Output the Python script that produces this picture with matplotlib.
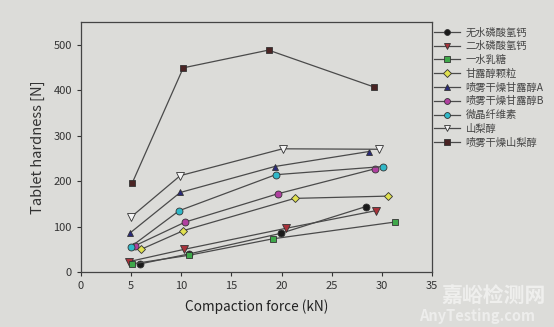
import matplotlib.pyplot as plt

plt.rcParams['font.family'] = ['Noto Sans CJK SC', 'DejaVu Sans']

# Tablet hardness vs compaction force for each excipient
names = ['无水磷酸氢钙', '二水磷酸氢钙', '一水乳糖', '甘露醇颗粒', '喷雾干燥甘露醇A',
         '喷雾干燥甘露醇B', '微晶纤维素', '山梨醇', '喷雾干燥山梨醇']
force = [
    [5.9, 10.8, 19.9, 28.4],
    [4.8, 10.3, 20.4, 29.4],
    [5.1, 10.8, 19.1, 31.3],
    [6.0, 10.2, 21.3, 30.6],
    [4.9, 9.9, 19.3, 28.7],
    [5.4, 10.4, 19.6, 29.3],
    [5.0, 9.8, 19.4, 30.1],
    [5.0, 9.9, 20.1, 29.7],
    [5.1, 10.2, 18.7, 29.2],
]
hardness = [
    [18, 40, 85, 144],
    [23, 50, 96, 135],
    [18, 37, 73, 110],
    [50, 91, 162, 167],
    [86, 175, 232, 265],
    [58, 110, 172, 227],
    [56, 135, 214, 232],
    [121, 212, 271, 270],
    [195, 449, 488, 407],
]
markers = ['o', 'v', 's', 'D', '^', 'o', 'o', 'v', 's']
colors = ['#1a1a1a', '#a8323a', '#3fa84a', '#e0e050', '#2a2a7a',
          '#b040a0', '#30b8c8', '#f4f4f4', '#4a2424']
sizes = [5, 5.5, 5, 4.5, 5, 5, 5, 5.5, 5]

bg = '#dcdcd9'
fig = plt.figure(figsize=(5.54, 3.27), dpi=100, facecolor=bg)
ax = fig.add_axes([0.146, 0.168, 0.634, 0.765], facecolor=bg)

for name, x, y, m, c, s in zip(names, force, hardness, markers, colors, sizes):
    ax.plot(x, y, color='#4a4a4a', lw=0.9, marker=m, ms=s, mfc=c,
            mec='#333333', mew=0.6, label=name)

ax.set_xlim(0, 35)
ax.set_ylim(0, 550)
ax.set_xticks([0, 5, 10, 15, 20, 25, 30, 35])
ax.set_yticks([0, 100, 200, 300, 400, 500])
ax.tick_params(labelsize=8, colors='#333333', length=3, width=0.8)
for sp in ax.spines.values():
    sp.set_color('#444444')
    sp.set_linewidth(0.9)
ax.set_xlabel('Compaction force (kN)', fontsize=9.8, color='#222222', labelpad=6)
ax.set_ylabel('Tablet hardness [N]', fontsize=10.5, color='#333333', labelpad=6)

leg = ax.legend(loc='upper left', bbox_to_anchor=(0.975, 1.02), frameon=False,
                fontsize=7.4, handlelength=2.6, labelspacing=0.36,
                borderaxespad=0.6, handletextpad=0.5, markerscale=0.85)
for t in leg.get_texts():
    t.set_color('#444444')

# site watermark
fig.text(0.797, 0.098, '嘉峪检测网', fontsize=15, color='white', alpha=0.55,
         ha='left', va='center', fontweight='bold')
fig.text(0.862, 0.033, 'AnyTesting.com', fontsize=10.5, color='white', alpha=0.5,
         ha='center', va='center', style='italic', fontweight='bold')

fig.savefig('out.png', dpi=100, facecolor=bg)
